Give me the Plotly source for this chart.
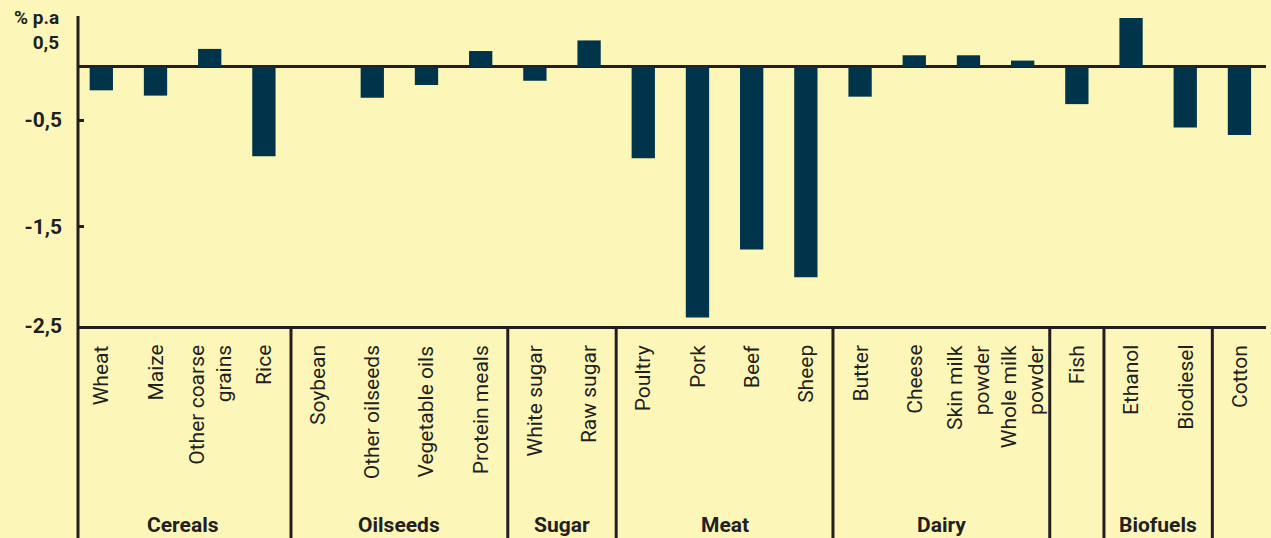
import plotly.graph_objects as go

categories = ["Wheat", "Maize", "Other coarse<br>grains", "Rice",
              "Soybean", "Other oilseeds", "Vegetable oils", "Protein meals",
              "White sugar", "Raw sugar",
              "Poultry", "Pork", "Beef", "Sheep",
              "Butter", "Cheese", "Skin milk<br>powder", "Whole milk<br>powder",
              "Fish", "Ethanol", "Biodiesel", "Cotton"]
values = [-0.22, -0.27, 0.17, -0.84,
          0.0, -0.29, -0.17, 0.15,
          -0.13, 0.25,
          -0.86, -2.36, -1.72, -1.98,
          -0.28, 0.11, 0.11, 0.06,
          -0.35, 0.46, -0.57, -0.64]
groups = ["Cereals", "Oilseeds", "Sugar", "Meat", "Dairy", "", "Biofuels", ""]
group_sizes = [4, 4, 2, 4, 4, 1, 2, 1]
ytick_text = ["-0,5", "-1,5", "-2,5"]

BG = "#fcf7b8"
BAR = "#00344a"
INK = "#231f20"

Y_MIN, Y_MAX = -2.44, 0.48
ytick_vals = [-0.5, -1.5, Y_MIN]

x = list(range(len(categories)))
fig = go.Figure(go.Bar(x=x, y=values, marker_color=BAR, width=0.43,
                       marker_line_width=0, hoverinfo="skip"))

W, H = 1271, 538
ml, mr, mt, mb = 78, 5, 16, 212
plot_h = H - mt - mb
plot_w = W - ml - mr

shapes = []
annotations = []
start = 0
for g, n in zip(groups, group_sizes):
    left = start - 0.5
    if start > 0:
        shapes.append(dict(type="line", xref="x", yref="paper", x0=left, x1=left,
                           y0=0, y1=-(mb + 5) / plot_h, line=dict(color=INK, width=3)))
    if g:
        annotations.append(dict(x=start + (n - 1) / 2, xref="x", y=-(525 - (H - mb)) / plot_h,
                                yref="paper", text="<b>%s</b>" % g, showarrow=False,
                                font=dict(family="Roboto", size=21, color=INK),
                                yanchor="middle"))
    start += n
shapes.append(dict(type="line", xref="paper", yref="paper", x0=0, x1=0, y0=1, y1=-(mb + 5) / plot_h,
                   line=dict(color=INK, width=3)))

for i, c in enumerate(categories):
    annotations.append(dict(x=i, xref="x", y=-(343 - (H - mb)) / plot_h, yref="paper",
                            text=c, textangle=-90, showarrow=False, yanchor="top",
                            xanchor="center", align="right",
                            font=dict(family="Roboto", size=21, color=INK)))

annotations.append(dict(x=-(ml - 61) / plot_w, xref="paper", y=(H - mb - 30.5) / plot_h,
                        yref="paper", text="<b>% p.a<br>0,5</b>", showarrow=False,
                        xanchor="right", align="right", yanchor="middle",
                        font=dict(family="Roboto", size=19, color=INK)))

fig.update_layout(
    width=W, height=H,
    margin=dict(l=ml, r=mr, t=mt, b=mb),
    paper_bgcolor=BG, plot_bgcolor=BG,
    showlegend=False,
    shapes=shapes, annotations=annotations,
    xaxis=dict(range=[-0.43, 21.49], showticklabels=False, showgrid=False,
               zeroline=False, showline=True, linecolor=INK, linewidth=3, ticks=""),
    yaxis=dict(range=[Y_MIN, Y_MAX], tickvals=ytick_vals, ticktext=ytick_text,
               showgrid=False, zeroline=True, zerolinecolor=INK, zerolinewidth=3,
               showline=False, ticks="inside", ticklen=6, tickwidth=3, tickcolor=INK,
               tickfont=dict(family="Roboto", size=21, color=INK, weight="bold"),
               ticklabelstandoff=15),
)

fig.write_html("out.html", config={"displayModeBar": False},
               post_script="document.body.style.margin='0';document.body.style.background='%s';" % BG)
